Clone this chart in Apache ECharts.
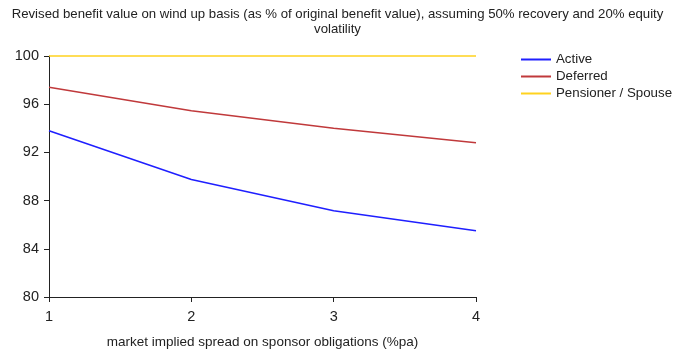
<!DOCTYPE html>
<html><head><meta charset="utf-8">
<script src="https://cdn.jsdelivr.net/npm/echarts@6/dist/echarts.min.js"></script>
<style>html,body{margin:0;padding:0;background:#fff}#c{width:675px;height:351px}</style>
</head><body><div id="c"></div>
<script>
var titleText = 'Revised benefit value on wind up basis (as % of original benefit value), assuming 50% recovery and 20% equity\nvolatility';
var xName = 'market implied spread on sponsor obligations (%pa)';
var spreads = [1, 2, 3, 4];
var active = [93.8, 89.75, 87.15, 85.5];
var deferred = [97.4, 95.45, 94.0, 92.8];
var pensioner = [100, 100, 100, 100];
var seriesNames = ['Active', 'Deferred', 'Pensioner / Spouse'];
var colors = ['#1f1fff', '#c0393b', '#ffd21f'];

function pairs(vals){ return spreads.map(function(x,i){ return [x, vals[i]]; }); }
var font = 'Liberation Sans, Arial, sans-serif';
var chart = echarts.init(document.getElementById('c'));
chart.setOption({
  animation: false,
  title: { text: titleText, left: 'center', top: 2, textStyle: { fontFamily: font, fontSize: 13.2, fontWeight: 'normal', color: '#222', lineHeight: 15 } },
  legend: { orient: 'vertical', left: 516, top: 48, itemGap: 4, itemWidth: 30, itemHeight: 2, icon: 'rect',
    textStyle: { fontFamily: font, fontSize: 13.3, color: '#222' }, data: seriesNames },
  grid: { left: 49, right: 199, top: 56, bottom: 54, outerBoundsMode: 'none', containLabel: false },
  xAxis: { type: 'value', min: 1, max: 4, interval: 1, name: xName, nameLocation: 'middle', nameGap: 38,
    nameTextStyle: { fontFamily: font, fontSize: 13.5, color: '#222' },
    axisLine: { lineStyle: { color: '#222' } }, axisTick: { show: true, length: 5, lineStyle: { color: '#222' } },
    axisLabel: { fontFamily: font, fontSize: 14.5, color: '#222', margin: 12 }, splitLine: { show: false } },
  yAxis: { type: 'value', min: 80, max: 100, interval: 4,
    axisLine: { show: true, lineStyle: { color: '#222' } }, axisTick: { show: true, length: 5, lineStyle: { color: '#222' } },
    axisLabel: { fontFamily: font, fontSize: 14.5, color: '#222', margin: 10 }, splitLine: { show: false } },
  series: [
    { name: seriesNames[0], type: 'line', data: pairs(active), showSymbol: false, clip: false, color: colors[0], lineStyle: { width: 1.5 } },
    { name: seriesNames[1], type: 'line', data: pairs(deferred), showSymbol: false, clip: false, color: colors[1], lineStyle: { width: 1.5 } },
    { name: seriesNames[2], type: 'line', data: pairs(pensioner), showSymbol: false, clip: false, color: colors[2], lineStyle: { width: 1.5 } }
  ]
});
</script></body></html>
